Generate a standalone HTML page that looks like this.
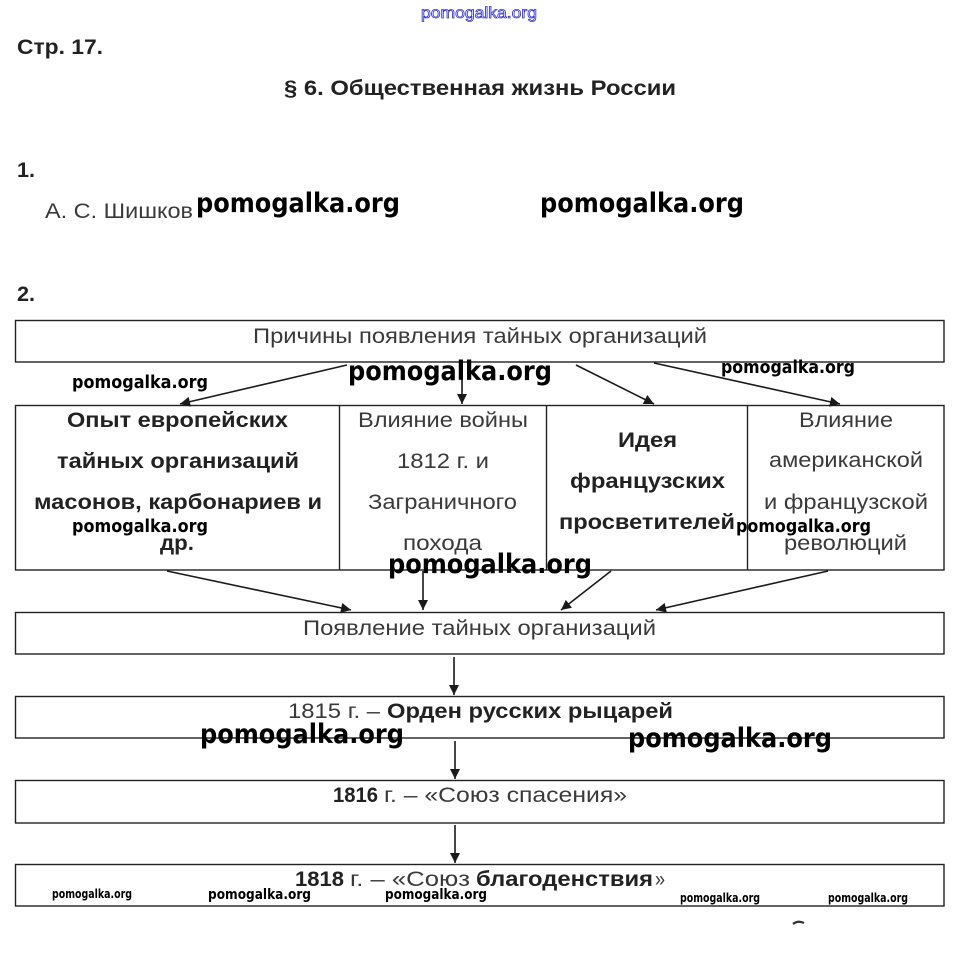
<!DOCTYPE html>
<html><head><meta charset="utf-8"><style>
html,body{margin:0;padding:0;background:#fff;}
svg{display:block;}
text{font-family:"Liberation Sans",Arial,sans-serif;}
.r{fill:#3a3a3a;font-size:21px;}
.b{fill:#222;font-size:21px;font-weight:bold;}
.w{fill:#000;font-weight:bold;font-family:"DejaVu Sans","Liberation Sans",sans-serif;}
</style></head><body>
<svg width="956" height="956" viewBox="0 0 956 956" xmlns="http://www.w3.org/2000/svg">
<defs>
<marker id="ah" viewBox="0 0 10 10" refX="10" refY="5" markerWidth="11" markerHeight="10" markerUnits="userSpaceOnUse" orient="auto">
<path d="M0,0 L10,5 L0,10 z" fill="#1a1a1a"/>
</marker>
</defs>
<rect width="956" height="956" fill="#fff"/>

<!-- top blue watermark -->
<text x="421" y="18" font-size="16" fill="#fff" stroke="#3535c8" stroke-width="0.8" textLength="116" lengthAdjust="spacingAndGlyphs" style="font-family:'Liberation Sans Narrow','Liberation Sans',sans-serif">pomogalka.org</text>

<text x="17" y="54" class="b" font-size="21" textLength="86" lengthAdjust="spacingAndGlyphs">Стр. 17.</text>
<text x="284" y="95" class="b" style="font-size:21px" textLength="392" lengthAdjust="spacingAndGlyphs">§ 6. Общественная жизнь России</text>

<text x="17" y="177" class="b" textLength="18" lengthAdjust="spacingAndGlyphs">1.</text>
<text x="45" y="218" class="r" style="font-size:21px" textLength="148" lengthAdjust="spacingAndGlyphs">А. С. Шишков</text>
<text x="196" y="212" class="w" font-size="27" textLength="204" lengthAdjust="spacingAndGlyphs">pomogalka.org</text>
<text x="540" y="212" class="w" font-size="27" textLength="204" lengthAdjust="spacingAndGlyphs">pomogalka.org</text>

<text x="17" y="301" class="b" textLength="18" lengthAdjust="spacingAndGlyphs">2.</text>

<!-- boxes -->
<g fill="none" stroke="#222" stroke-width="1.4">
<rect x="15.5" y="320.5" width="928.5" height="41.5"/>
<rect x="15.5" y="405.5" width="928.5" height="164.5"/>
<line x1="339.5" y1="405.5" x2="339.5" y2="570"/>
<line x1="546.5" y1="405.5" x2="546.5" y2="570"/>
<line x1="747.5" y1="405.5" x2="747.5" y2="570"/>
<rect x="15.5" y="612.5" width="928.5" height="41.5"/>
<rect x="15.5" y="696.5" width="928.5" height="41.5"/>
<rect x="15.5" y="780.5" width="928.5" height="42.5"/>
<rect x="15.5" y="864.5" width="928.5" height="41.5"/>
</g>

<!-- arrows -->
<g stroke="#1a1a1a" stroke-width="1.6" marker-end="url(#ah)">
<line x1="347" y1="365" x2="180" y2="404"/>
<line x1="462" y1="363" x2="462" y2="404"/>
<line x1="576" y1="365" x2="654" y2="404"/>
<line x1="654" y1="363" x2="840" y2="404"/>
<line x1="167" y1="571" x2="351" y2="610"/>
<line x1="423" y1="571" x2="423" y2="610"/>
<line x1="611" y1="571" x2="561" y2="610"/>
<line x1="828" y1="571" x2="656" y2="610"/>
<line x1="454" y1="657" x2="454" y2="695"/>
<line x1="455" y1="741" x2="455" y2="779"/>
<line x1="455" y1="825" x2="455" y2="863"/>
</g>

<!-- top box text -->
<text x="253" y="343" class="r" textLength="454" lengthAdjust="spacingAndGlyphs">Причины появления тайных организаций</text>

<!-- cell 1 -->
<text x="67" y="427" class="b" textLength="221" lengthAdjust="spacingAndGlyphs">Опыт европейских</text>
<text x="57" y="468" class="b" textLength="242" lengthAdjust="spacingAndGlyphs">тайных организаций</text>
<text x="34" y="509" class="b" textLength="288" lengthAdjust="spacingAndGlyphs">масонов, карбонариев и</text>
<text x="160" y="550" class="b" textLength="34" lengthAdjust="spacingAndGlyphs">др.</text>

<!-- cell 2 -->
<text x="358" y="427" class="r" textLength="170" lengthAdjust="spacingAndGlyphs">Влияние войны</text>
<text x="397" y="468" class="r" textLength="92" lengthAdjust="spacingAndGlyphs">1812 г. и</text>
<text x="368" y="509" class="r" textLength="149" lengthAdjust="spacingAndGlyphs">Заграничного</text>
<text x="403" y="550" class="r" textLength="79" lengthAdjust="spacingAndGlyphs">похода</text>

<!-- cell 3 -->
<text x="618" y="447" class="b" textLength="59" lengthAdjust="spacingAndGlyphs">Идея</text>
<text x="570" y="488" class="b" textLength="155" lengthAdjust="spacingAndGlyphs">французских</text>
<text x="559" y="529" class="b" textLength="176" lengthAdjust="spacingAndGlyphs">просветителей</text>

<!-- cell 4 -->
<text x="799" y="427" class="r" textLength="94" lengthAdjust="spacingAndGlyphs">Влияние</text>
<text x="769" y="467" class="r" textLength="154" lengthAdjust="spacingAndGlyphs">американской</text>
<text x="764" y="509" class="r" textLength="164" lengthAdjust="spacingAndGlyphs">и французской</text>
<text x="784" y="550" class="r" textLength="123" lengthAdjust="spacingAndGlyphs">революций</text>

<!-- lower boxes text -->
<text x="303" y="635" class="r" textLength="353" lengthAdjust="spacingAndGlyphs">Появление тайных организаций</text>

<text x="288" y="718" class="r" textLength="92" lengthAdjust="spacingAndGlyphs">1815 г. –</text>
<text x="387" y="718" class="b" textLength="286" lengthAdjust="spacingAndGlyphs">Орден русских рыцарей</text>

<text x="333" y="802" class="b" textLength="45" lengthAdjust="spacingAndGlyphs">1816</text>
<text x="384" y="802" class="r" textLength="243" lengthAdjust="spacingAndGlyphs">г. – «Союз спасения»</text>

<text x="295" y="886" class="b" textLength="49" lengthAdjust="spacingAndGlyphs">1818</text>
<text x="350" y="886" class="r" textLength="120" lengthAdjust="spacingAndGlyphs">г. – «Союз</text>
<text x="476" y="886" class="b" textLength="177" lengthAdjust="spacingAndGlyphs">благоденствия</text>
<text x="655" y="886" class="r" textLength="10" lengthAdjust="spacingAndGlyphs">»</text>

<!-- watermarks -->
<text x="348" y="380" class="w" font-size="27" textLength="204" lengthAdjust="spacingAndGlyphs">pomogalka.org</text>
<text x="72" y="388" class="w" font-size="18" textLength="136" lengthAdjust="spacingAndGlyphs">pomogalka.org</text>
<text x="721" y="373" class="w" font-size="18" textLength="134" lengthAdjust="spacingAndGlyphs">pomogalka.org</text>
<text x="72" y="532" class="w" font-size="18" textLength="136" lengthAdjust="spacingAndGlyphs">pomogalka.org</text>
<text x="736" y="532" class="w" font-size="18" textLength="135" lengthAdjust="spacingAndGlyphs">pomogalka.org</text>
<text x="388" y="573" class="w" font-size="27" textLength="204" lengthAdjust="spacingAndGlyphs">pomogalka.org</text>
<text x="200" y="743" class="w" font-size="27" textLength="204" lengthAdjust="spacingAndGlyphs">pomogalka.org</text>
<text x="628" y="747" class="w" font-size="27" textLength="204" lengthAdjust="spacingAndGlyphs">pomogalka.org</text>

<text x="52" y="898" class="w" font-size="12" textLength="80" lengthAdjust="spacingAndGlyphs">pomogalka.org</text>
<text x="208" y="899" class="w" font-size="14" textLength="103" lengthAdjust="spacingAndGlyphs">pomogalka.org</text>
<text x="385" y="899" class="w" font-size="14" textLength="102" lengthAdjust="spacingAndGlyphs">pomogalka.org</text>
<text x="680" y="902" class="w" font-size="12" textLength="80" lengthAdjust="spacingAndGlyphs">pomogalka.org</text>
<text x="828" y="902" class="w" font-size="12" textLength="80" lengthAdjust="spacingAndGlyphs">pomogalka.org</text>

<!-- small stray mark -->
<path d="M793,924 Q798,920 804,923" stroke="#333" stroke-width="2.2" fill="none"/>
</svg>
</body></html>
